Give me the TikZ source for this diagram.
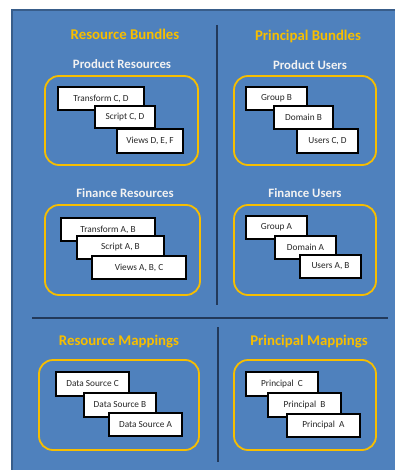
\documentclass[tikz,border=0pt]{standalone}
\usepackage{fontspec}
\setmainfont{Carlito}
\definecolor{panelblue}{HTML}{4F81BD}
\definecolor{paneledge}{HTML}{385D8A}
\definecolor{rulenavy}{HTML}{22395A}
\definecolor{bundlegold}{HTML}{F7BE00}
\definecolor{cardtext}{HTML}{262626}
\begin{document}
\begin{tikzpicture}[x=1pt,y=-1pt,
    heading/.style={font=\bfseries\fontsize{14.8}{17}\selectfont,text=bundlegold},
    subheading/.style={font=\bfseries\fontsize{12.8}{15}\selectfont,text=white!95!black},
    group/.style={draw=bundlegold,line width=1.8pt,rounded corners=14pt,inner sep=0pt},
    card/.style={draw=black,line width=2pt,fill=white,inner sep=0pt,
      text=cardtext,font=\fontsize{9.3}{11}\selectfont}]
      \useasboundingbox (0,0) rectangle (395,470);
      \fill[panelblue] (11,9) rectangle (395,470);
      \draw[paneledge,line width=2pt] (12,470) -- (12,10) -- (395,10);
      \begin{scope}[rulenavy,line width=1.3pt]
        \draw (217,25) -- (217,305);
        \draw (32,318) -- (388,318);
        \draw (218,327) -- (218,462);
      \end{scope}
      % headings
      \node[heading] (resb) at (125,34) {Resource Bundles};
      \node[heading] (prib) at (308,36) {Principal Bundles};
      \node[heading] (resm) at (119,342) {Resource Mappings};
      \node[heading] (prim) at (309,342) {Principal Mappings};
      \node[subheading] (prodres) at (122,64) {Product Resources};
      \node[subheading] (produsr) at (310,65) {Product Users};
      \node[subheading] (finres) at (125,193) {Finance Resources};
      \node[subheading] (finusr) at (305,193) {Finance Users};
      % bundles
      \node[group,minimum width=153,minimum height=89] (grp1) at (121.5,120.5) {};
      \node[group,minimum width=142,minimum height=89] (grp2) at (305,120.5) {};
      \node[group,minimum width=155,minimum height=90] (grp3) at (122.5,250) {};
      \node[group,minimum width=142,minimum height=90] (grp4) at (305,250) {};
      \node[group,minimum width=160,minimum height=90] (grp5) at (119,405) {};
      \node[group,minimum width=142,minimum height=90] (grp6) at (305,405) {};
      % product resources
      \node[card,minimum width=86,minimum height=23] (tcd) at (101,98.5) {Transform C, D};
      \node[card,minimum width=60,minimum height=22] (scd) at (125,117) {Script C, D};
      \node[card,minimum width=66,minimum height=24] (vdef) at (150,141) {Views D, E, F};
      % product users
      \node[card,minimum width=61,minimum height=23] (gb) at (276.5,98.5) {Group B};
      \node[card,minimum width=59,minimum height=23] (db) at (303.5,117.5) {Domain B};
      \node[card,minimum width=61,minimum height=24] (ucd) at (327.5,141) {Users C, D};
      % finance resources
      \node[card,minimum width=94,minimum height=23] (tab) at (108,229.5) {Transform A, B};
      \node[card,minimum width=87,minimum height=23] (sab) at (120.5,247.5) {Script A, B};
      \node[card,minimum width=94,minimum height=23] (vabc) at (139,267.5) {Views A, B, C};
      % finance users
      \node[card,minimum width=61,minimum height=23] (ga) at (276.5,227.5) {Group A};
      \node[card,minimum width=61,minimum height=23] (da) at (305.5,247.5) {Domain A};
      \node[card,minimum width=61,minimum height=23] (uab) at (330.5,266.5) {Users A, B};
      % resource mappings
      \node[card,minimum width=73,minimum height=24] (dsc) at (92.5,384) {Data Source C};
      \node[card,minimum width=72,minimum height=24] (dsb) at (120,405) {Data Source B};
      \node[card,minimum width=73,minimum height=23] (dsa) at (145.5,424.5) {Data Source A};
      % principal mappings
      \node[card,minimum width=72,minimum height=24] (pc) at (282,384) {Principal~~C};
      \node[card,minimum width=73,minimum height=24] (pb) at (304.5,405) {Principal~~B};
      \node[card,minimum width=73,minimum height=23] (pa) at (323.5,425.5) {Principal~~A};
    \end{tikzpicture}
\end{document}
